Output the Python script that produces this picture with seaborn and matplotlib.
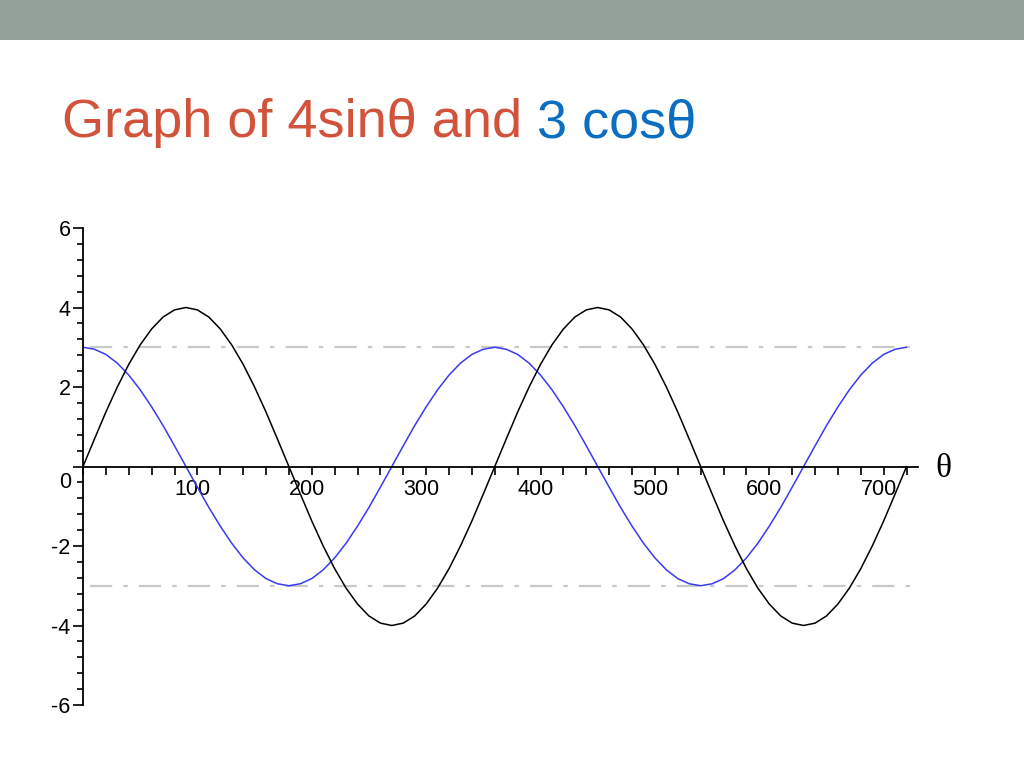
"""
Slide chart: graph of 4 sin(theta) and 3 cos(theta) over 0..720 degrees.
"""
import pandas as pd
import matplotlib
matplotlib.use("Agg")
import matplotlib.pyplot as plt
from matplotlib.patches import Rectangle
from matplotlib.ticker import MultipleLocator
from matplotlib.transforms import ScaledTranslation
import seaborn as sns

# angle samples (degrees) and curve values
theta = list(range(0, 721, 10))
sin4 = [0.0, 0.69, 1.37, 2.0, 2.57, 3.06, 3.46, 3.76, 3.94,
        4.0, 3.94, 3.76, 3.46, 3.06, 2.57, 2.0, 1.37, 0.69,
        0.0, -0.69, -1.37, -2.0, -2.57, -3.06, -3.46, -3.76, -3.94,
        -4.0, -3.94, -3.76, -3.46, -3.06, -2.57, -2.0, -1.37, -0.69,
        0.0, 0.69, 1.37, 2.0, 2.57, 3.06, 3.46, 3.76, 3.94,
        4.0, 3.94, 3.76, 3.46, 3.06, 2.57, 2.0, 1.37, 0.69,
        0.0, -0.69, -1.37, -2.0, -2.57, -3.06, -3.46, -3.76, -3.94,
        -4.0, -3.94, -3.76, -3.46, -3.06, -2.57, -2.0, -1.37, -0.69,
        0.0]
cos3 = [3.0, 2.95, 2.82, 2.6, 2.3, 1.93, 1.5, 1.03, 0.52,
        0.0, -0.52, -1.03, -1.5, -1.93, -2.3, -2.6, -2.82, -2.95,
        -3.0, -2.95, -2.82, -2.6, -2.3, -1.93, -1.5, -1.03, -0.52,
        0.0, 0.52, 1.03, 1.5, 1.93, 2.3, 2.6, 2.82, 2.95,
        3.0, 2.95, 2.82, 2.6, 2.3, 1.93, 1.5, 1.03, 0.52,
        0.0, -0.52, -1.03, -1.5, -1.93, -2.3, -2.6, -2.82, -2.95,
        -3.0, -2.95, -2.82, -2.6, -2.3, -1.93, -1.5, -1.03, -0.52,
        0.0, 0.52, 1.03, 1.5, 1.93, 2.3, 2.6, 2.82, 2.95,
        3.0]
amp_lines = [3, -3]
x_major = [100, 200, 300, 400, 500, 600, 700]
y_major = [-6, -4, -2, 0, 2, 4, 6]

title_red = "Graph of 4sin\u03b8 and"
title_blue = "3 cos\u03b8"

RED = "#d2533b"
BLUE_TITLE = "#0b6fc1"
CURVE_BLUE = "#3a3aef"
BAR_GREY = "#93a19a"

sns.set_theme(style="white")
plt.rcParams["font.family"] = ["Liberation Sans", "DejaVu Sans"]

df = pd.DataFrame({"theta": theta, "4sin": sin4, "3cos": cos3})

fig = plt.figure(figsize=(10.24, 7.68), dpi=100)
fig.patch.set_facecolor("white")

# grey band across the top of the slide
fig.patches.append(Rectangle((0, 1 - 40 / 768), 1, 40 / 768, transform=fig.transFigure,
                             facecolor=BAR_GREY, edgecolor="none", zorder=0))

# two-coloured title
t1 = fig.text(62 / 1024, 1 - 137 / 768, title_red, color=RED, fontsize=39,
              va="baseline", ha="left")
fig.canvas.draw()
bb = t1.get_window_extent(renderer=fig.canvas.get_renderer())
fig.text((bb.x1 + 15) / 1024, 1 - 137 / 768, title_blue, color=BLUE_TITLE, fontsize=39,
         va="baseline", ha="left")

ax = fig.add_axes([83 / 1024, 1 - 705 / 768, (918 - 83) / 1024, (705 - 228) / 768])
ax.set_facecolor("none")

# reference lines at +/-3
for yv in amp_lines:
    ax.plot([6, 730], [yv, yv], color="#c9c9c9", lw=1.6,
            dashes=(10, 5, 2, 5), zorder=1)

sns.lineplot(data=df, x="theta", y="4sin", color="black", lw=1.1, ax=ax, zorder=3)
sns.lineplot(data=df, x="theta", y="3cos", color=CURVE_BLUE, lw=1.1, ax=ax, zorder=2)

ax.set_xlim(0, 730)
ax.set_ylim(-6, 6)
ax.set_xlabel("")
ax.set_ylabel("")

for s in ["top", "right"]:
    ax.spines[s].set_visible(False)
ax.spines["bottom"].set_position(("data", 0))
ax.spines["left"].set_position(("data", 0))
for s in ["bottom", "left"]:
    ax.spines[s].set_color("black")
    ax.spines[s].set_linewidth(1.3)

ax.set_xticks(x_major)
ax.set_xticklabels([str(v) for v in x_major])
ax.xaxis.set_minor_locator(MultipleLocator(20))
ax.set_yticks(y_major)
ax.set_yticklabels(["" if v == 0 else str(v) for v in y_major])
ax.yaxis.set_minor_locator(MultipleLocator(0.4))

ax.tick_params(axis="x", which="both", direction="out", bottom=True, length=6,
               width=1.2, color="black", pad=3, labelsize=15.5, labelcolor="black")
ax.tick_params(axis="y", which="major", direction="out", left=True, length=7,
               width=1.2, color="black", pad=2, labelsize=15.5, labelcolor="black")
ax.tick_params(axis="y", which="minor", direction="out", left=True, length=4,
               width=1.2, color="black")

# x labels sit a little left of their ticks, as in the original
shift = ScaledTranslation(-5 / 100, 0, fig.dpi_scale_trans)
for lab in ax.get_xticklabels():
    lab.set_transform(lab.get_transform() + shift)

# zero label sits below the horizontal axis
ax.annotate("0", xy=(0, 0), xytext=(-12, -16), textcoords="offset pixels",
            ha="right", va="center", fontsize=15.5, color="black")
# axis name
ax.annotate("\u03b8", xy=(730, 0), xytext=(25, -2), textcoords="offset pixels",
            ha="center", va="center", fontsize=24, color="black",
            family=["Liberation Serif", "DejaVu Serif"], annotation_clip=False)

fig.savefig("out.png", dpi=100, facecolor="white")
